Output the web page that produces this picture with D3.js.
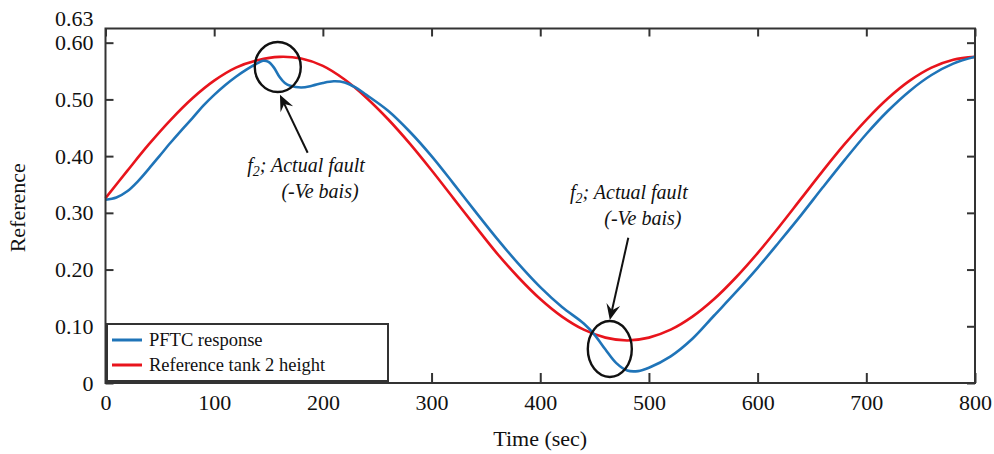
<!DOCTYPE html>
<html>
<head>
<meta charset="utf-8">
<script src="https://cdn.jsdelivr.net/npm/d3@7"></script>
<style>
  html, body { margin: 0; padding: 0; background: #fff; }
  svg { display: block; }
  text { font-family: "Liberation Serif", "Times New Roman", serif; fill: #111; }
</style>
</head>
<body>
<svg id="chart" width="994" height="454"></svg>
<script>
// Reference tank 2 height (sec, level)
const refTime = [0,20,40,60,80,100,120,140,160,180,200,220,240,260,280,300,320,340,360,380,
                 400,420,440,460,480,500,520,540,560,580,600,620,640,660,680,700,720,740,760,780,800];
const refHeight = [0.326,0.374,0.421,0.464,0.502,0.533,0.556,0.569,0.575,0.572,0.559,0.535,0.503,0.465,0.422,0.375,0.326,
                   0.277,0.229,0.186,0.148,0.117,0.094,0.080,0.075,0.080,0.094,0.117,0.148,0.186,0.229,0.276,
                   0.325,0.374,0.421,0.464,0.502,0.533,0.556,0.570,0.575];

// PFTC response (sec, level)
const pftcTime = [0,10,20,30,40,50,60,70,80,90,100,110,120,130,140,145,150,155,160,165,170,180,190,200,210,220,230,240,
                  260,280,300,320,340,360,380,400,420,440,450,460,470,480,490,500,520,540,560,580,600,620,640,660,680,
                  700,720,740,760,780,800];
const pftcHeight = [0.323,0.327,0.338,0.356,0.378,0.401,0.424,0.446,0.467,0.489,0.508,0.525,0.540,0.553,0.564,0.568,0.566,0.556,
                    0.540,0.529,0.524,0.521,0.524,0.529,0.532,0.530,0.521,0.508,
                    0.480,0.443,0.400,0.352,0.303,0.255,0.210,0.169,0.134,0.105,0.085,0.059,0.035,0.022,0.021,0.027,
                    0.047,0.078,0.119,0.160,0.203,0.249,0.296,0.345,0.393,0.439,0.480,0.515,0.543,0.563,0.575];

const xTicks = [0,100,200,300,400,500,600,700,800];
const yTicks = [0,0.1,0.2,0.3,0.4,0.5,0.6];
const yTickLabels = ["0","0.10","0.20","0.30","0.40","0.50","0.60"];
const yTopLabel = "0.63";
const yMax = 0.625;

const seriesNames = ["PFTC response", "Reference tank 2 height"];
const seriesColors = ["#1f74b8", "#e8141c"];

// Fault annotations: circled region, arrow (tail -> tip) and caption, all in data units
const faults = [
  { cx: 158.5, cy: 0.557, rx: 23, ry: 25, tail: [186, 0.406], tip: [160.5, 0.508], tx: 184.5, ty: 0.372 },
  { cx: 464,   cy: 0.060, rx: 22, ry: 28, tail: [481, 0.256], tip: [464, 0.111],   tx: 481.5, ty: 0.325 }
];

const svg = d3.select("#chart");
const L = 105.5, R = 975, T = 28.5, B = 383;
const x = d3.scaleLinear().domain([0, 800]).range([L, R]);
const y = d3.scaleLinear().domain([0, yMax]).range([B, T]);

// Curves
const line = d3.line().x(d => x(d[0])).y(d => y(d[1])).curve(d3.curveCatmullRom.alpha(0.5));
const series = [
  d3.zip(pftcTime, pftcHeight),
  d3.zip(refTime, refHeight)
];
// reference drawn first, response on top
svg.append("path").datum(series[1]).attr("d", line)
  .attr("fill", "none").attr("stroke", seriesColors[1]).attr("stroke-width", 2.6);
svg.append("path").datum(series[0]).attr("d", line)
  .attr("fill", "none").attr("stroke", seriesColors[0]).attr("stroke-width", 2.6);

// Axes with inward ticks on all four sides
const tickFont = "22px";
const gL = svg.append("g").attr("transform", `translate(${L},0)`)
  .call(d3.axisLeft(y).tickValues(yTicks).tickSize(-8).tickPadding(12)
        .tickFormat((d, i) => yTickLabels[i]));
const gB = svg.append("g").attr("transform", `translate(0,${B})`)
  .call(d3.axisBottom(x).tickValues(xTicks).tickSize(-10).tickPadding(11));
const gT = svg.append("g").attr("transform", `translate(0,${T})`)
  .call(d3.axisTop(x).tickValues(xTicks).tickSize(-8).tickFormat(""));
const gR = svg.append("g").attr("transform", `translate(${R},0)`)
  .call(d3.axisRight(y).tickValues(yTicks).tickSize(-8).tickFormat(""));
[gL, gB, gT, gR].forEach(g => {
  g.select(".domain").remove();
  g.selectAll(".tick line").attr("stroke", "#333").attr("stroke-width", 2);
  g.selectAll(".tick text").attr("font-size", tickFont)
    .attr("font-family", "'Liberation Serif', serif").attr("fill", "#111");
});
gL.append("text").attr("x", -12).attr("y", y(yMax) - 10).attr("dy", "0.32em")
  .attr("text-anchor", "end").attr("font-size", tickFont)
  .attr("font-family", "'Liberation Serif', serif").attr("fill", "#111").text(yTopLabel);

// Frame
svg.append("rect").attr("x", L).attr("y", T).attr("width", R - L).attr("height", B - T)
  .attr("fill", "none").attr("stroke", "#333").attr("stroke-width", 2);

// Axis titles
svg.append("text").attr("x", (L + R) / 2).attr("y", 446).attr("text-anchor", "middle")
  .attr("font-size", "22px").text("Time (sec)");
svg.append("text").attr("transform", `translate(25,${(T + B) / 2 + 2}) rotate(-90)`)
  .attr("text-anchor", "middle").attr("font-size", "22px").text("Reference");

// Fault annotations
const ann = svg.append("g");
faults.forEach(f => {
  ann.append("ellipse").attr("cx", x(f.cx)).attr("cy", y(f.cy)).attr("rx", f.rx).attr("ry", f.ry)
    .attr("fill", "none").attr("stroke", "#111").attr("stroke-width", 2.4);
  const x0 = x(f.tail[0]), y0 = y(f.tail[1]), x1 = x(f.tip[0]), y1 = y(f.tip[1]);
  const ang = Math.atan2(y1 - y0, x1 - x0);
  const head = 16, half = 7, notch = 10;
  const ux = Math.cos(ang), uy = Math.sin(ang), px = -uy, py = ux;
  ann.append("line").attr("x1", x0).attr("y1", y0)
    .attr("x2", x1 - ux * notch).attr("y2", y1 - uy * notch)
    .attr("stroke", "#111").attr("stroke-width", 2);
  const pts = [
    [x1, y1],
    [x1 - ux * head + px * half, y1 - uy * head + py * half],
    [x1 - ux * notch, y1 - uy * notch],
    [x1 - ux * head - px * half, y1 - uy * head - py * half]
  ];
  ann.append("path").attr("d", "M" + pts.map(p => p.join(",")).join("L") + "Z").attr("fill", "#111");
  const t = ann.append("text").attr("x", x(f.tx)).attr("y", y(f.ty))
    .attr("text-anchor", "middle").attr("font-size", "20px").attr("font-style", "italic");
  t.append("tspan").text("f");
  t.append("tspan").attr("font-size", "14px").attr("dy", "4").text("2");
  t.append("tspan").attr("dy", "-4").text("; Actual fault");
  ann.append("text").attr("x", x(f.tx) + 14).attr("y", y(f.ty) + 26)
    .attr("text-anchor", "middle").attr("font-size", "20px").attr("font-style", "italic")
    .text("(-Ve bais)");
});

// Legend
const lg = svg.append("g").attr("transform", "translate(107,324)");
lg.append("rect").attr("width", 281).attr("height", 57).attr("fill", "#fff")
  .attr("stroke", "#333").attr("stroke-width", 2);
seriesNames.forEach((name, i) => {
  const yy = 16 + i * 25;
  lg.append("line").attr("x1", 5).attr("x2", 35).attr("y1", yy).attr("y2", yy)
    .attr("stroke", seriesColors[i]).attr("stroke-width", 3);
  lg.append("text").attr("x", 42).attr("y", yy).attr("dy", "0.33em")
    .attr("font-size", "18.5px").text(name);
});
</script>
</body>
</html>
